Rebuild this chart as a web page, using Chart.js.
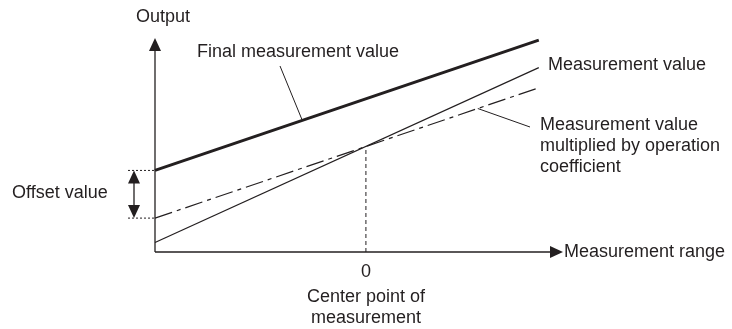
<!DOCTYPE html>
<html>
<head>
<meta charset="utf-8">
<script src="https://cdn.jsdelivr.net/npm/chart.js@4.4.0/dist/chart.umd.min.js"></script>
<style>
  html, body { margin: 0; padding: 0; background: #fff; }
  #wrap { width: 732px; height: 329px; }
</style>
</head>
<body>
<div id="wrap"><canvas id="myChart"></canvas></div>
<script>
// x = measurement range (0 = center point), y = output
const rangeX = [-1.22, 1.0];
const finalValue = [0.77, 2.0];
const measValue = [0.09, 1.74];
const coefValue = [0.32, 1.55];
const centerX = [0, 0];
const centerY = [0, 1.0];

const xAxisMax = 1.14;
const yAxisMax = 2.02;

const INK = '#231f20';
const FONT = '18px "Liberation Sans", Arial, sans-serif';

let pts = (xs, ys) => xs.map((x, i) => ({ x: x, y: ys[i] }));

// y on a straight series at value x
let yAt = (ys, x) => ys[0] + (ys[1] - ys[0]) * (x - rangeX[0]) / (rangeX[1] - rangeX[0]);

let triangle = (ctx, tipX, tipY, dir, len, half) => {
  ctx.beginPath();
  if (dir === 'up') { ctx.moveTo(tipX, tipY); ctx.lineTo(tipX - half, tipY + len); ctx.lineTo(tipX + half, tipY + len); }
  if (dir === 'down') { ctx.moveTo(tipX, tipY); ctx.lineTo(tipX - half, tipY - len); ctx.lineTo(tipX + half, tipY - len); }
  if (dir === 'right') { ctx.moveTo(tipX, tipY); ctx.lineTo(tipX - len, tipY - half); ctx.lineTo(tipX - len, tipY + half); }
  ctx.closePath();
  ctx.fill();
};

let line = (ctx, x1, y1, x2, y2) => {
  ctx.beginPath();
  ctx.moveTo(x1, y1);
  ctx.lineTo(x2, y2);
  ctx.stroke();
};

const diagram = {
  id: 'diagram',
  afterDraw(chart) {
    const ctx = chart.ctx;
    const xs = chart.scales.x, ys = chart.scales.y;
    const x0 = xs.getPixelForValue(rangeX[0]);
    const y0 = ys.getPixelForValue(0);
    const xEnd = xs.getPixelForValue(xAxisMax);
    const yTop = ys.getPixelForValue(yAxisMax);

    ctx.save();
    ctx.strokeStyle = INK;
    ctx.fillStyle = INK;
    ctx.lineWidth = 1.3;

    // axes with arrows
    line(ctx, x0, y0, x0, yTop + 10);
    triangle(ctx, x0, yTop, 'up', 13, 6);
    line(ctx, x0, y0, xEnd - 10, y0);
    triangle(ctx, xEnd, y0, 'right', 13, 6);

    // offset value marker
    const yHi = ys.getPixelForValue(finalValue[0]);
    const yLo = ys.getPixelForValue(coefValue[0]);
    const ax = x0 - 21;
    ctx.lineWidth = 1;
    ctx.setLineDash([2, 2]);
    line(ctx, x0 - 27, yHi, x0, yHi);
    line(ctx, x0 - 27, yLo, x0, yLo);
    ctx.setLineDash([]);
    ctx.lineWidth = 1.3;
    line(ctx, ax, yHi + 8, ax, yLo - 8);
    triangle(ctx, ax, yHi, 'up', 13, 6);
    triangle(ctx, ax, yLo, 'down', 13, 6);

    // leader lines
    ctx.lineWidth = 1;
    const fx = -0.37;
    line(ctx, 280, 66, xs.getPixelForValue(fx), ys.getPixelForValue(yAt(finalValue, fx)) - 1);
    const cx = 0.647;
    line(ctx, xs.getPixelForValue(cx), ys.getPixelForValue(yAt(coefValue, cx)), 530, 127);

    // texts
    ctx.font = FONT;
    ctx.textBaseline = 'middle';
    ctx.textAlign = 'left';
    ctx.fillText('Output', 136, 17);
    ctx.fillText('Final measurement value', 197, 52);
    ctx.fillText('Measurement value', 548, 65);
    ctx.fillText('Measurement value', 540, 125);
    ctx.fillText('multiplied by operation', 540, 146);
    ctx.fillText('coefficient', 540, 167);
    ctx.fillText('Offset value', 12, 193);
    ctx.fillText('Measurement range', xEnd + 1, y0);
    ctx.textAlign = 'center';
    const cpx = xs.getPixelForValue(0);
    ctx.fillText('0', cpx, 272);
    ctx.fillText('Center point of', cpx, 297);
    ctx.fillText('measurement', cpx, 318);
    ctx.restore();
  }
};

const ctx = document.getElementById('myChart');
const chart = new Chart(ctx, {
  type: 'line',
  data: {
    datasets: [
      { label: 'Final measurement value', data: pts(rangeX, finalValue), borderColor: INK, borderWidth: 3 },
      { label: 'Measurement value', data: pts(rangeX, measValue), borderColor: INK, borderWidth: 1.2 },
      { label: 'Measurement value multiplied by operation coefficient', data: pts(rangeX, coefValue),
        borderColor: INK, borderWidth: 1.2, borderDash: [18, 5, 4, 5] },
      { label: 'Center point', data: pts(centerX, centerY), borderColor: INK, borderWidth: 1, borderDash: [4, 3] }
    ]
  },
  options: {
    responsive: true,
    maintainAspectRatio: false,
    animation: false,
    layout: { padding: { left: 155, right: 169, top: 38, bottom: 77 } },
    elements: { point: { radius: 0 }, line: { tension: 0 } },
    datasets: { line: { clip: false } },
    plugins: { legend: { display: false }, tooltip: { enabled: false } },
    scales: {
      x: { type: 'linear', min: rangeX[0], max: xAxisMax, display: false },
      y: { type: 'linear', min: 0, max: yAxisMax, display: false }
    }
  },
  plugins: [diagram]
});
</script>
</body>
</html>
